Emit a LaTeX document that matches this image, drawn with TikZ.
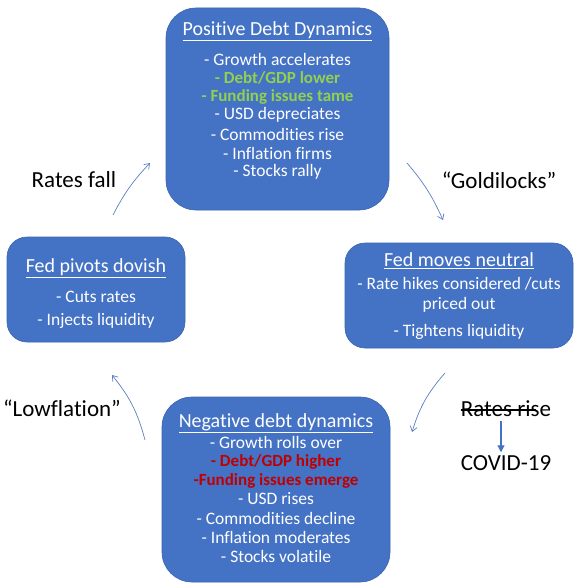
\documentclass[tikz,border=0pt]{standalone}
\usepackage{fontspec}
\setmainfont[Ligatures={NoCommon}]{Carlito}
\usetikzlibrary{arrows.meta}
\definecolor{boxblue}{HTML}{4472C4}
\definecolor{boxedge}{HTML}{3A64B0}
\definecolor{goodgreen}{HTML}{92D050}
\definecolor{badred}{HTML}{C00000}
\definecolor{arrowblue}{HTML}{5B7FC0}
\tikzset{
  cyclebox/.style={fill=boxblue, draw=boxedge, line width=0.6pt, rounded corners=#1, inner sep=0pt},
  boxtitle/.style={text=white, font=\fontsize{20}{22}\selectfont, inner sep=0pt},
  boxline/.style={text=white, font=\fontsize{17.5}{19}\selectfont, inner sep=0pt},
  greenline/.style={text=goodgreen, font=\fontsize{17}{19}\selectfont\bfseries, inner sep=0pt},
  redline/.style={text=badred, font=\fontsize{17}{19}\selectfont\bfseries, inner sep=0pt},
  outerlabel/.style={text=black, font=\fontsize{23}{25}\selectfont, inner sep=0pt},
  cyclearrow/.style={draw=arrowblue, line width=0.7pt, -{Straight Barb[length=5pt,width=7pt]}},
}
\begin{document}
\begin{tikzpicture}[x=1pt,y=-1pt]
\useasboundingbox (0,0) rectangle (580,588);
% boxes
\node[cyclebox=30pt, minimum width=223pt, minimum height=202pt] (top) at (277.5,109) {};
\node[cyclebox=20pt, minimum width=178pt, minimum height=105pt] (left) at (96,289.5) {};
\node[cyclebox=20pt, minimum width=228pt, minimum height=105pt] (right) at (459,295.5) {};
\node[cyclebox=30pt, minimum width=228pt, minimum height=185pt] (bottom) at (276,489.5) {};
% top box text
\node[boxtitle] (t0) at (277.5,31) {\underline{Positive Debt Dynamics}};
\node[boxline] (t1) at (277.5,59) {- Growth accelerates};
\node[greenline] (t2) at (277.5,78) {- Debt/GDP lower};
\node[greenline] (t3) at (277.5,97) {- Funding issues tame};
\node[boxline] (t4) at (277.5,115) {- USD depreciates};
\node[boxline] (t5) at (277.5,134) {- Commodities rise};
\node[boxline] (t6) at (277.5,153) {- Inflation firms};
\node[boxline] (t7) at (277.5,172) {- Stocks rally};
% left box text
\node[boxtitle] (l0) at (96,268) {\underline{Fed pivots dovish}};
\node[boxline] (l1) at (96,297) {- Cuts rates};
\node[boxline] (l2) at (96,321) {- Injects liquidity};
% right box text
\node[boxtitle] (r0) at (459,261) {\underline{Fed moves neutral}};
\node[boxline] (r1) at (459,284) {- Rate hikes considered /cuts};
\node[boxline] (r2) at (459,305) {priced out};
\node[boxline] (r3) at (459,332) {- Tightens liquidity};
% bottom box text
\node[boxtitle] (b0) at (276,423) {\underline{Negative debt dynamics}};
\node[boxline] (b1) at (276,442) {- Growth rolls over};
\node[redline] (b2) at (276,462) {- Debt/GDP higher};
\node[redline] (b3) at (276,481) {-Funding issues emerge};
\node[boxline] (b4) at (276,499) {- USD rises};
\node[boxline] (b5) at (276,518) {- Commodities decline};
\node[boxline] (b6) at (276,537) {- Inflation moderates};
\node[boxline] (b7) at (276,556) {- Stocks volatile};
% outer labels
\node[outerlabel] (fall) at (74,180) {Rates fall};
\node[outerlabel] (gold) at (499,180) {“Goldilocks”};
\node[outerlabel] (low) at (62,408) {“Lowflation”};
\node[outerlabel] (rise) at (506,409) {Rates rise};
\node[outerlabel] (covid) at (506,463) {COVID-19};
\draw[black, line width=1.2pt] ([yshift=-1pt]rise.west) -- ([xshift=-15pt,yshift=-1pt]rise.east);
% cycle arrows
\coordinate (a1s) at (113,215); \coordinate (a1e) at (150,163);
\coordinate (a2s) at (407,163); \coordinate (a2e) at (443,220);
\coordinate (a3s) at (445,373); \coordinate (a3e) at (412,432);
\coordinate (a4s) at (145,440); \coordinate (a4e) at (112,375);
\draw[cyclearrow] (a1s) to[bend left=8] (a1e);
\draw[cyclearrow] (a2s) to[bend left=8] (a2e);
\draw[cyclearrow] (a3s) to[bend right=12] (a3e);
\draw[cyclearrow] (a4s) to[bend right=12] (a4e);
% covid arrow
\draw[draw=boxblue, line width=1.2pt, -{Triangle[length=7pt,width=7pt]}] ([xshift=-5pt,yshift=-4pt]rise.south) -- ([xshift=-5pt,yshift=3pt]covid.north);
\end{tikzpicture}
\end{document}
